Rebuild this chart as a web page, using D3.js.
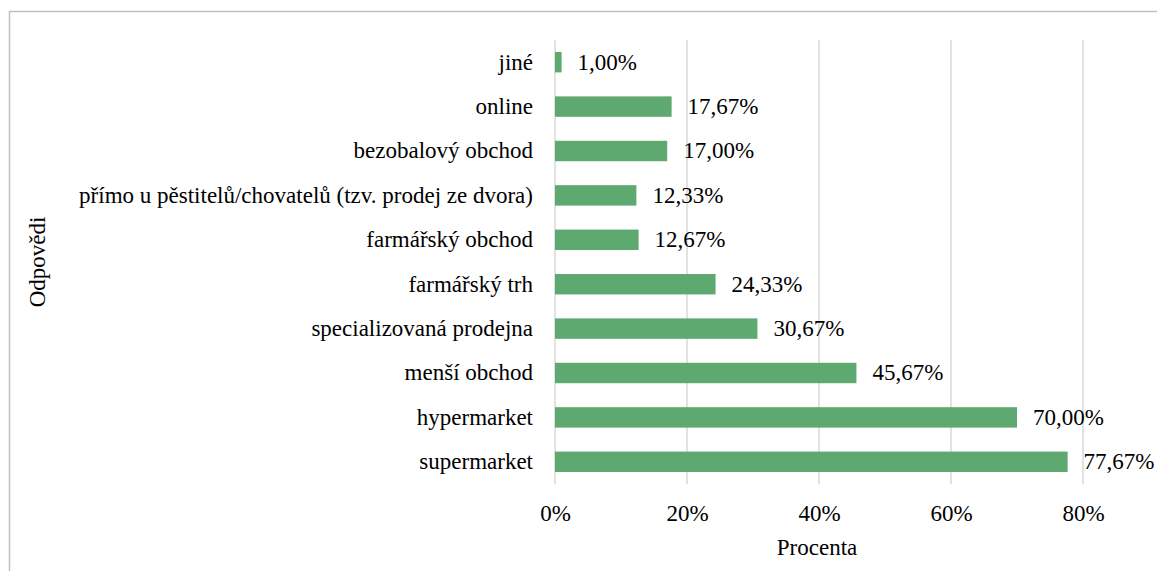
<!DOCTYPE html>
<html>
<head>
<meta charset="utf-8">
<script src="https://cdn.jsdelivr.net/npm/d3@7"></script>
<style>
  html, body { margin: 0; padding: 0; background: #fff; }
  svg { display: block; }
  svg text { font-family: 'Liberation Serif', 'Times New Roman', Times, 'DejaVu Serif', serif !important; fill: #000; }
</style>
</head>
<body>
<svg id="chart" width="1157" height="571"></svg>
<script>
const categories = ["jiné", "online", "bezobalový obchod", "přímo u pěstitelů/chovatelů (tzv. prodej ze dvora)", "farmářský obchod", "farmářský trh", "specializovaná prodejna", "menší obchod", "hypermarket", "supermarket"];
const values = [1.00, 17.67, 17.00, 12.33, 12.67, 24.33, 30.67, 45.67, 70.00, 77.67];
const tickValues = [0, 20, 40, 60, 80];
const xTitle = "Procenta";
const yTitle = "Odpovědi";

const FONT = "'Liberation Serif', 'Times New Roman', Times, 'DejaVu Serif', serif";
const svg = d3.select("#chart").attr("font-family", FONT);
const W = 1157, H = 571;
const plot = { left: 555, right: 1149, top: 40, bottom: 484 };

// outer frame (left and top edges visible)
svg.append("path")
  .attr("d", `M9.5,${H} L9.5,11.5 L${W},11.5`)
  .attr("fill", "none").attr("stroke", "#bfbfbf").attr("stroke-width", 1.5);

const x = d3.scaleLinear().domain([0, 90]).range([plot.left, plot.right]);
const y = d3.scaleBand().domain(categories).range([plot.top, plot.bottom])
  .paddingInner(0.54).paddingOuter(0.27);

// gridlines
svg.append("g").selectAll("line").data(tickValues).join("line")
  .attr("x1", d => x(d)).attr("x2", d => x(d))
  .attr("y1", plot.top).attr("y2", plot.bottom)
  .attr("stroke", "#d9d9d9").attr("stroke-width", 1.5);

// x axis tick labels via d3 axis
const xAxis = d3.axisBottom(x).tickValues(tickValues).tickFormat(d => d + "%").tickSize(0).tickPadding(0);
const gx = svg.append("g").attr("transform", `translate(0,${plot.bottom})`).call(xAxis)
  .attr("font-family", FONT).attr("font-size", 23);
gx.select(".domain").remove();
gx.selectAll("text").attr("dy", "0.32em").attr("y", 30).attr("fill", "#000");

// y axis labels via d3 axis
const yAxis = d3.axisLeft(y).tickSize(0).tickPadding(22);
const gy = svg.append("g").attr("transform", `translate(${plot.left},0)`).call(yAxis)
  .attr("font-family", FONT).attr("font-size", 23);
gy.select(".domain").remove();
gy.selectAll("text").attr("dy", "0.32em").attr("fill", "#000");

// bars
svg.append("g").selectAll("rect").data(categories).join("rect")
  .attr("x", x(0))
  .attr("y", (d) => y(d))
  .attr("width", (d, i) => x(values[i]) - x(0))
  .attr("height", y.bandwidth())
  .attr("fill", "#5ea96f");

// value labels
const fmt = v => v.toFixed(2).replace(".", ",") + "%";
svg.append("g").attr("font-size", 23).selectAll("text").data(categories).join("text")
  .attr("x", (d, i) => x(values[i]) + 16)
  .attr("y", d => y(d) + y.bandwidth() / 2)
  .attr("dy", "0.32em")
  .text((d, i) => fmt(values[i]));

// axis titles
svg.append("text").attr("x", 817).attr("y", 548).attr("dy", "0.32em")
  .attr("text-anchor", "middle").attr("font-size", 23).text(xTitle);
svg.append("text").attr("transform", `translate(38,${(plot.top + plot.bottom) / 2}) rotate(-90)`)
  .attr("dy", "0.32em").attr("text-anchor", "middle").attr("font-size", 23).text(yTitle);
</script>
</body>
</html>
